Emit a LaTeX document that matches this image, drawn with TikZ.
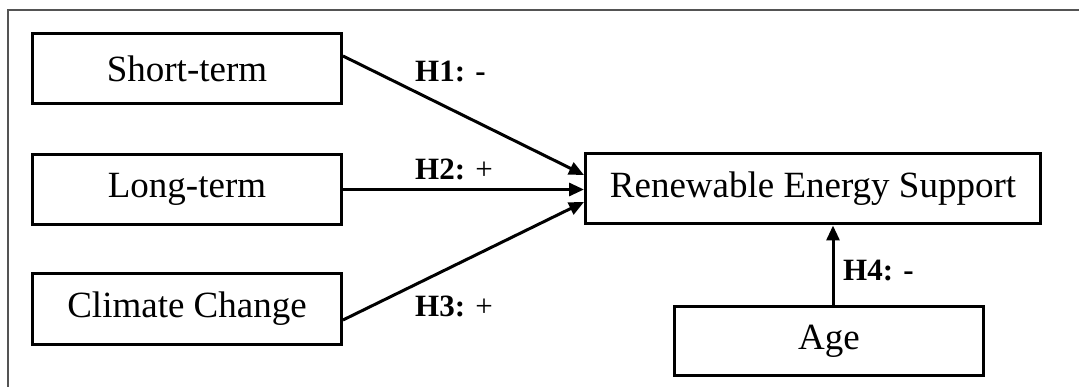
\documentclass[tikz,border=0pt]{standalone}
\usepackage{fontspec}
\setmainfont{Liberation Serif}
\usetikzlibrary{arrows.meta}
\begin{document}
\begin{tikzpicture}[x=1pt,y=-1pt,
  var/.style={draw=black,line width=3pt,fill=white,inner sep=0pt,
    minimum width=309pt,minimum height=70pt,
    font=\fontsize{37}{44}\selectfont},
  link/.style={line width=3pt,-{Triangle[length=15pt,width=13pt]}},
  hyp/.style={anchor=base west,inner sep=0pt,font=\fontsize{31}{36}\selectfont}]
\useasboundingbox (0,0) rectangle (1079,387);
% open frame around the model
\draw[draw=black!67,line width=1.4pt] (8,390) -- (8,10) -- (1082,10);
% constructs
\node[var] (short) at (187,68.5) {Short-term};
\node[var] (long) at (187,189.5) {Long-term};
\node[var] (climate) at (187,309) {Climate Change};
\node[var,minimum width=455pt] (res) at (813,189) {Renewable Energy Support};
\node[var,minimum height=69pt] (age) at (829,341) {Age};
% hypothesised paths
\draw[link] ([yshift=12.5pt]short.east) -- ([yshift=14pt]res.west);
\draw[link] (long.east) -- (long.east -| res.west);
\draw[link] ([yshift=-11pt]climate.east) -- ([yshift=-13pt]res.west);
\draw[link] ([xshift=4pt]age.north) -- ([xshift=4pt]age.north |- res.south);
% path labels
\node[hyp] (h1) at (415,82) {\textbf{H1: -}};
\node[hyp] (h2) at (415,180) {\textbf{H2:} +};
\node[hyp] (h3) at (415,317) {\textbf{H3:} +};
\node[hyp] (h4) at (843,281) {\textbf{H4: -}};
\end{tikzpicture}
\end{document}
